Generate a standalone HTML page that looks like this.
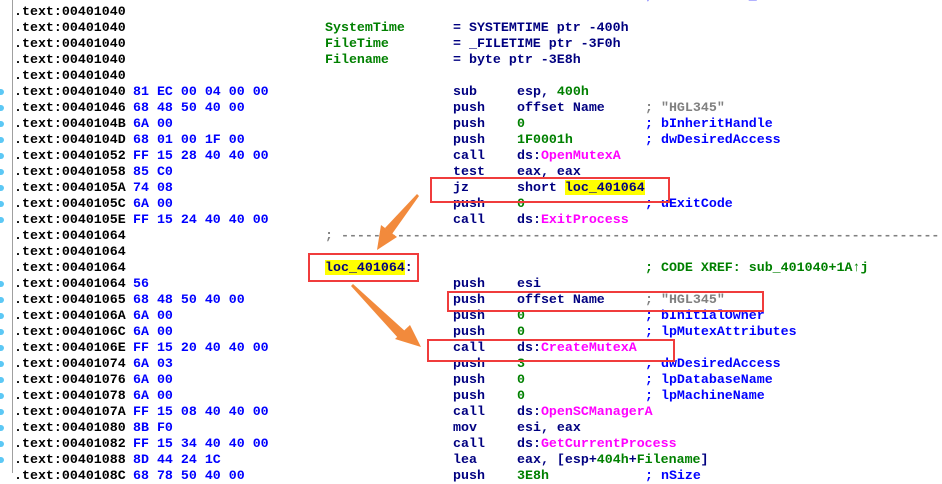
<!DOCTYPE html>
<html><head><meta charset="utf-8"><style>
body{margin:0;width:942px;height:473px;overflow:hidden;background:#fff;position:relative;font-family:"Liberation Mono",monospace;font-size:13.3px;font-weight:bold;}
.r{position:absolute;left:0;height:16px;line-height:16px;white-space:pre;width:942px}
.r span{position:absolute;top:0}
.a{left:14px;color:#000}
.b{left:133px;color:#0000ff}
.l{left:325px}
.m{left:453px;color:#000080}
.o{left:517px;color:#000080}
.c{left:645px;color:#0000ff}
.g{color:#008000}.p{color:#ff00ff}.gr{color:#808080}.n{color:#000080}
.y{background:#ffff00;color:#000080}
.dot{position:absolute;left:0;width:4px;height:6px;background:#5cc8f5;border-radius:0 3px 3px 0}
.box{position:absolute;border:2px solid #f03c3c}
</style></head><body>
<div style="position:absolute;left:12px;top:0;width:1px;height:473px;background:#a0a0a0"></div>
<div class="r" style="top:-12px"><span class="a">.text:00401040</span><span class="c" style="color:#8080ff">; DATA XREF: _main+10↑o</span></div>
<div class="r" style="top:4px"><span class="a">.text:00401040</span></div>
<div class="r" style="top:20px"><span class="a">.text:00401040</span><span class="l g">SystemTime</span><span class="m">= SYSTEMTIME ptr -400h</span></div>
<div class="r" style="top:36px"><span class="a">.text:00401040</span><span class="l g">FileTime</span><span class="m">= _FILETIME ptr -3F0h</span></div>
<div class="r" style="top:52px"><span class="a">.text:00401040</span><span class="l g">Filename</span><span class="m">= byte ptr -3E8h</span></div>
<div class="r" style="top:68px"><span class="a">.text:00401040</span></div>
<div class="r" style="top:84px"><span class="a">.text:00401040</span><span class="b">81 EC 00 04 00 00</span><span class="m">sub</span><span class="o">esp, <span class="g" style="position:static">400h</span></span></div>
<div class="r" style="top:100px"><span class="a">.text:00401046</span><span class="b">68 48 50 40 00</span><span class="m">push</span><span class="o">offset Name</span><span class="c gr">; "HGL345"</span></div>
<div class="r" style="top:116px"><span class="a">.text:0040104B</span><span class="b">6A 00</span><span class="m">push</span><span class="o g">0</span><span class="c">; bInheritHandle</span></div>
<div class="r" style="top:132px"><span class="a">.text:0040104D</span><span class="b">68 01 00 1F 00</span><span class="m">push</span><span class="o g">1F0001h</span><span class="c">; dwDesiredAccess</span></div>
<div class="r" style="top:148px"><span class="a">.text:00401052</span><span class="b">FF 15 28 40 40 00</span><span class="m">call</span><span class="o">ds:<span class="p" style="position:static">OpenMutexA</span></span></div>
<div class="r" style="top:164px"><span class="a">.text:00401058</span><span class="b">85 C0</span><span class="m">test</span><span class="o">eax, eax</span></div>
<div class="r" style="top:180px"><span class="a">.text:0040105A</span><span class="b">74 08</span><span class="m">jz</span><span class="o">short <span class="y" style="position:static">loc_401064</span></span></div>
<div class="r" style="top:196px"><span class="a">.text:0040105C</span><span class="b">6A 00</span><span class="m">push</span><span class="o g">0</span><span class="c">; uExitCode</span></div>
<div class="r" style="top:212px"><span class="a">.text:0040105E</span><span class="b">FF 15 24 40 40 00</span><span class="m">call</span><span class="o">ds:<span class="p" style="position:static">ExitProcess</span></span></div>
<div class="r" style="top:228px"><span class="a">.text:00401064</span><span class="l gr">; ---------------------------------------------------------------------------</span></div>
<div class="r" style="top:244px"><span class="a">.text:00401064</span></div>
<div class="r" style="top:260px"><span class="a">.text:00401064</span><span class="l"><span class="y" style="position:static">loc_401064</span><span class="n" style="position:static">:</span></span><span class="c g">; CODE XREF: sub_401040+1A↑j</span></div>
<div class="r" style="top:276px"><span class="a">.text:00401064</span><span class="b">56</span><span class="m">push</span><span class="o">esi</span></div>
<div class="r" style="top:292px"><span class="a">.text:00401065</span><span class="b">68 48 50 40 00</span><span class="m">push</span><span class="o">offset Name</span><span class="c gr">; "HGL345"</span></div>
<div class="r" style="top:308px"><span class="a">.text:0040106A</span><span class="b">6A 00</span><span class="m">push</span><span class="o g">0</span><span class="c">; bInitialOwner</span></div>
<div class="r" style="top:324px"><span class="a">.text:0040106C</span><span class="b">6A 00</span><span class="m">push</span><span class="o g">0</span><span class="c">; lpMutexAttributes</span></div>
<div class="r" style="top:340px"><span class="a">.text:0040106E</span><span class="b">FF 15 20 40 40 00</span><span class="m">call</span><span class="o">ds:<span class="p" style="position:static">CreateMutexA</span></span></div>
<div class="r" style="top:356px"><span class="a">.text:00401074</span><span class="b">6A 03</span><span class="m">push</span><span class="o g">3</span><span class="c">; dwDesiredAccess</span></div>
<div class="r" style="top:372px"><span class="a">.text:00401076</span><span class="b">6A 00</span><span class="m">push</span><span class="o g">0</span><span class="c">; lpDatabaseName</span></div>
<div class="r" style="top:388px"><span class="a">.text:00401078</span><span class="b">6A 00</span><span class="m">push</span><span class="o g">0</span><span class="c">; lpMachineName</span></div>
<div class="r" style="top:404px"><span class="a">.text:0040107A</span><span class="b">FF 15 08 40 40 00</span><span class="m">call</span><span class="o">ds:<span class="p" style="position:static">OpenSCManagerA</span></span></div>
<div class="r" style="top:420px"><span class="a">.text:00401080</span><span class="b">8B F0</span><span class="m">mov</span><span class="o">esi, eax</span></div>
<div class="r" style="top:436px"><span class="a">.text:00401082</span><span class="b">FF 15 34 40 40 00</span><span class="m">call</span><span class="o">ds:<span class="p" style="position:static">GetCurrentProcess</span></span></div>
<div class="r" style="top:452px"><span class="a">.text:00401088</span><span class="b">8D 44 24 1C</span><span class="m">lea</span><span class="o">eax, [esp+<span class="g" style="position:static">404h</span>+<span class="g" style="position:static">Filename</span>]</span></div>
<div class="r" style="top:468px"><span class="a">.text:0040108C</span><span class="b">68 78 50 40 00</span><span class="m">push</span><span class="o g">3E8h</span><span class="c">; nSize</span></div>
<div class="dot" style="top:89px"></div><div class="dot" style="top:105px"></div><div class="dot" style="top:121px"></div><div class="dot" style="top:137px"></div><div class="dot" style="top:153px"></div><div class="dot" style="top:169px"></div><div class="dot" style="top:185px"></div><div class="dot" style="top:201px"></div><div class="dot" style="top:217px"></div>
<div class="dot" style="top:281px"></div><div class="dot" style="top:297px"></div><div class="dot" style="top:313px"></div><div class="dot" style="top:329px"></div><div class="dot" style="top:345px"></div><div class="dot" style="top:361px"></div><div class="dot" style="top:377px"></div><div class="dot" style="top:393px"></div><div class="dot" style="top:409px"></div><div class="dot" style="top:425px"></div><div class="dot" style="top:441px"></div><div class="dot" style="top:457px"></div>
<div class="box" style="left:430px;top:177px;width:236px;height:22px"></div>
<div class="box" style="left:308px;top:253px;width:107px;height:25px"></div>
<div class="box" style="left:447px;top:291px;width:313px;height:17px"></div>
<div class="box" style="left:427px;top:339px;width:244px;height:19px"></div>
<svg width="942" height="473" style="position:absolute;left:0;top:0">
<g fill="#f28a3c" stroke="none">
<polygon points="417,194 419,196 392,234 385,228"/>
<polygon points="377,250 381,225 397,237"/>
<polygon points="351,286 353,284 406,332 399,339"/>
<polygon points="421,347 395,339 410,325"/>
</g>
</svg>
</body></html>
